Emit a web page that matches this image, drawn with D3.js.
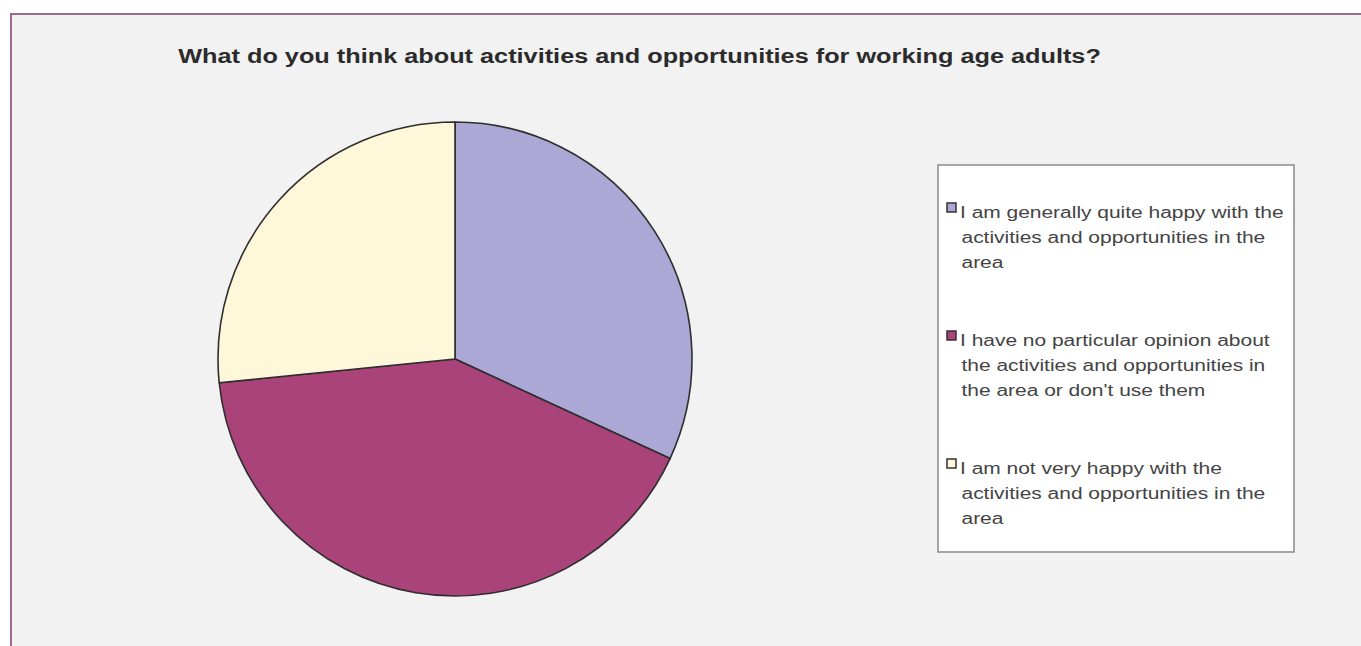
<!DOCTYPE html>
<html><head><meta charset="utf-8">
<script src="https://cdn.jsdelivr.net/npm/d3@7"></script>
<style>html,body{margin:0;padding:0;background:#fff;}svg{display:block;}</style>
</head><body>
<svg id="chart" width="1361" height="646"></svg>
<script>
const title = "What do you think about activities and opportunities for working age adults?";
const categories = [
  ["I am generally quite happy with the", "activities and opportunities in the", "area"],
  ["I have no particular opinion about", "the activities and opportunities in", "the area or don't use them"],
  ["I am not very happy with the", "activities and opportunities in the", "area"]
];
const values = [31.9, 41.5, 26.6];
const colors = ["#aba8d6", "#a9437a", "#fff7da"];

const svg = d3.select("#chart");
svg.append("rect").attr("x", 11).attr("y", 14).attr("width", 1361).attr("height", 640)
  .attr("fill", "#f2f2f2").attr("stroke", "#9a6b8c").attr("stroke-width", 2);

// title (reference glyphs are horizontally stretched)
const tt = svg.append("text")
  .attr("font-family", "Liberation Sans, Arial, sans-serif").attr("font-weight", "bold")
  .attr("font-size", 21).attr("fill", "#2b2b2b").attr("text-anchor", "middle")
  .text(title);
const tw = tt.node().getComputedTextLength();
tt.attr("transform", `translate(639.5,63) scale(${923 / tw},1)`);

const cx = 455, cy = 359, r = 237;
const pie = d3.pie().sort(null).value(d => d);
const arc = d3.arc().innerRadius(0).outerRadius(r);
const g = svg.append("g").attr("transform", `translate(${cx},${cy})`);
g.selectAll("path").data(pie(values)).join("path")
  .attr("d", arc).attr("fill", (d, i) => colors[i])
  .attr("stroke", "#2e2e2e").attr("stroke-width", 1.6).attr("stroke-linejoin", "round");

// legend
const lg = svg.append("g");
lg.append("rect").attr("x", 938).attr("y", 165).attr("width", 356).attr("height", 387)
  .attr("fill", "#ffffff").attr("stroke", "#8a8a8a").attr("stroke-width", 1.5);
const groupY = [212, 340, 468];
const sx = 1.31;
categories.forEach((lines, i) => {
  lg.append("rect").attr("x", 947).attr("y", groupY[i] - 9).attr("width", 9).attr("height", 9)
    .attr("fill", colors[i]).attr("stroke", "#333").attr("stroke-width", 1.5);
  lines.forEach((ln, j) => {
    lg.append("text").attr("font-family", "Liberation Sans, Arial, sans-serif")
      .attr("font-size", 16).attr("fill", "#444")
      .attr("transform", `translate(${j === 0 ? 960 : 961.5},${groupY[i] + 6 + j * 25}) scale(${sx},1)`)
      .text(ln);
  });
});
</script>
</body></html>
